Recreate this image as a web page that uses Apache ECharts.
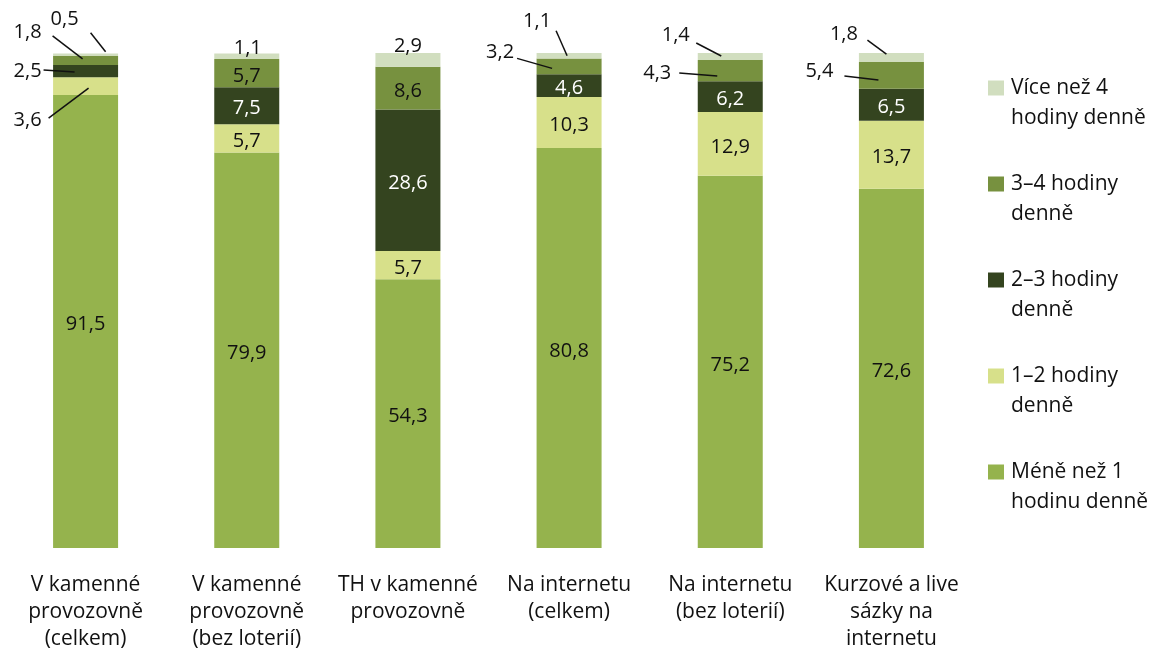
<!DOCTYPE html>
<html>
<head>
<meta charset="utf-8">
<script src="https://cdn.jsdelivr.net/npm/echarts@6/dist/echarts.min.js"></script>
<style>
  html, body { margin: 0; padding: 0; background: #fff; }
  #chart { width: 1164px; height: 654px; }
</style>
</head>
<body>
<div id="chart"></div>
<script>
// Categories (x axis) and the five stacked shares, in percent
const categories = [
  'V kamenné\nprovozovně\n(celkem)',
  'V kamenné\nprovozovně\n(bez loterií)',
  'TH v kamenné\nprovozovně',
  'Na internetu\n(celkem)',
  'Na internetu\n(bez loterií)',
  'Kurzové a live\nsázky na\ninternetu'
];
const seriesNames = [
  'Méně než 1\nhodinu denně',
  '1–2 hodiny\ndenně',
  '2–3 hodiny\ndenně',
  '3–4 hodiny\ndenně',
  'Více než 4\nhodiny denně'
];
const lessThan1   = [91.5, 79.9, 54.3, 80.8, 75.2, 72.6];
const oneToTwo    = [3.6, 5.7, 5.7, 10.3, 12.9, 13.7];
const twoToThree  = [2.5, 7.5, 28.6, 4.6, 6.2, 6.5];
const threeToFour = [1.8, 5.7, 8.6, 3.2, 4.3, 5.4];
const moreThan4   = [0.5, 1.1, 2.9, 1.1, 1.4, 1.8];

const values = [lessThan1, oneToTwo, twoToThree, threeToFour, moreThan4];
const colors = ['#95B34D', '#D7E08A', '#34441F', '#77913F', '#D1DEBF'];
const labelColors = ['#111', '#111', '#fff', '#111', '#111'];
const FONT = "'Open Sans', 'Noto Sans', sans-serif";

// Small segments are labelled outside the bar: label offset and leader line,
// both relative to the segment's centre (pixels).
const callouts = [
  { s: 4, c: 0, label: [-21, -35],   line: [5, -22, 20, -3] },
  { s: 3, c: 0, label: [-58, -28],   line: [-33, -24.5, -3, -1.5] },
  { s: 2, c: 0, label: [-58, 0],     line: [-42, -1, -11, 1] },
  { s: 1, c: 0, label: [-58, 34],    line: [-37, 32, 3, 2] },
  { s: 4, c: 1, label: [1, -8],      line: null },
  { s: 4, c: 2, label: [0, -13],     line: null },
  { s: 4, c: 3, label: [-32, -34],   line: [-13, -25, -2, 0] },
  { s: 3, c: 3, label: [-69, -14],   line: [-52, -8, -17, 2] },
  { s: 4, c: 4, label: [-54.5, -21.5], line: [-34, -13.5, -9, -0.5] },
  { s: 3, c: 4, label: [-73, 2.5],   line: [-51, 2.5, -13, 5.5] },
  { s: 4, c: 5, label: [-47.5, -23.5], line: [-24, -17.4, -5, -3.4] },
  { s: 3, c: 5, label: [-72, -4.3],  line: [-47, 0.7, -13, 4.7] }
];
const calloutKeys = new Set(callouts.map(co => co.s + ':' + co.c));

const fmt = v => v.toFixed(1).replace('.', ',');

// Segment centres for the outside labels, stacked from the series values
const calloutData = callouts.map((co, k) => {
  let base = 0;
  for (let j = 0; j < co.s; j++) base += values[j][co.c];
  return [co.c, base + values[co.s][co.c] / 2, k];
});

const barSeries = values.map((arr, si) => ({
  name: seriesNames[si],
  type: 'bar',
  stack: 'total',
  barWidth: 65,
  data: arr,
  itemStyle: { color: colors[si] },
  label: {
    show: true,
    position: 'inside',
    offset: [0, 3],
    color: labelColors[si],
    fontFamily: FONT,
    fontSize: 20,
    formatter: p => calloutKeys.has(si + ':' + p.dataIndex) ? '' : fmt(p.value)
  },
  emphasis: { disabled: true }
}));

const calloutSeries = {
  type: 'custom',
  data: calloutData,
  encode: { x: 0, y: 1 },
  z: 10,
  silent: true,
  renderItem(params, api) {
    const co = callouts[api.value(2)];
    const p = api.coord([api.value(0), api.value(1)]);
    const children = [{
      type: 'text',
      style: {
        text: fmt(values[co.s][co.c]),
        x: p[0] + co.label[0],
        y: p[1] + co.label[1],
        align: 'center',
        verticalAlign: 'middle',
        font: '20px ' + FONT,
        fill: '#111'
      }
    }];
    if (co.line) {
      children.push({
        type: 'line',
        shape: {
          x1: p[0] + co.line[0], y1: p[1] + co.line[1],
          x2: p[0] + co.line[2], y2: p[1] + co.line[3]
        },
        style: { stroke: '#111', lineWidth: 1.5 }
      });
    }
    return { type: 'group', children };
  }
};

const chart = echarts.init(document.getElementById('chart'), null, { renderer: 'canvas' });
chart.setOption({
  animation: false,
  backgroundColor: '#fff',
  grid: { left: 5, right: 192, top: 53, bottom: 106, containLabel: false },
  xAxis: {
    type: 'category',
    data: categories,
    axisLine: { show: false },
    axisTick: { show: false },
    axisLabel: {
      interval: 0,
      margin: 24,
      fontSize: 21,
      lineHeight: 27,
      color: '#111',
      fontFamily: FONT
    }
  },
  yAxis: { type: 'value', min: 0, max: 100, show: false },
  legend: {
    orient: 'vertical',
    left: 988,
    top: 43,
    padding: 0,
    itemWidth: 16,
    itemHeight: 15,
    itemGap: 6,
    icon: 'rect',
    selectedMode: false,
    data: seriesNames.slice().reverse(),
    // leading blank line keeps the swatch level with the first text line
    formatter: name => '\n' + name,
    textStyle: {
      fontFamily: FONT,
      fontSize: 21,
      lineHeight: 30,
      color: '#111',
      padding: [0, 0, 0, 2]
    }
  },
  series: [...barSeries, calloutSeries]
});
</script>
</body>
</html>
